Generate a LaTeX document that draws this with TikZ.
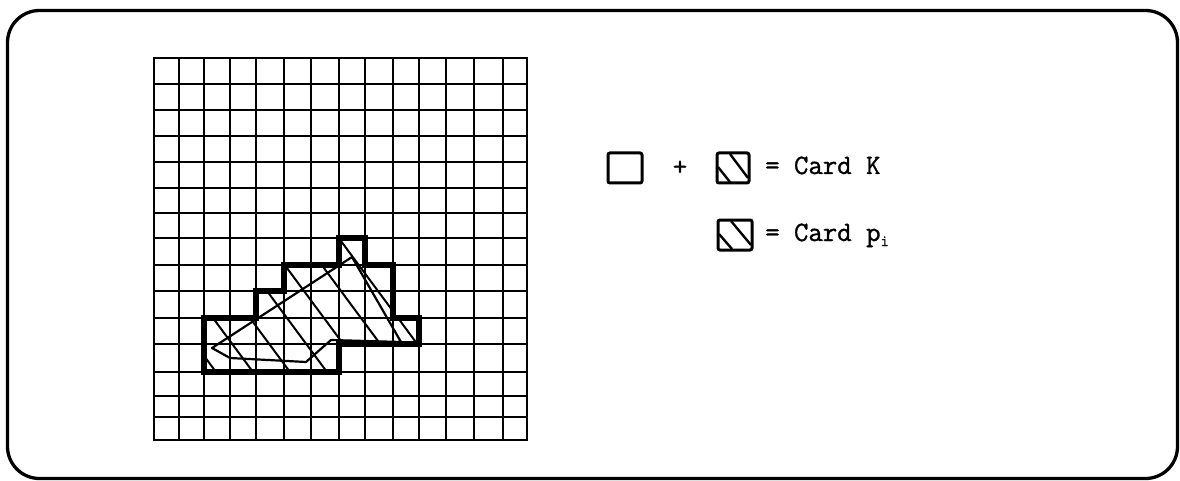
\documentclass[tikz,border=0pt]{standalone}
\usepackage{fontspec}
\newfontfamily\legfont{Latin Modern Mono}[FakeBold=1.2]
\begin{document}
\begin{tikzpicture}[x=1pt,y=-1pt,
  gridline/.style={line width=2.5pt},
  kline/.style={line width=5.5pt, line join=miter},
  pline/.style={line width=2.2pt, line join=round},
  hatch/.style={line width=2pt},
  legbox/.style={line width=3pt, rounded corners=2pt},
  legtext/.style={font=\fontsize{28}{32}\selectfont\legfont, anchor=base west, inner sep=0pt},
]
\useasboundingbox (0,0) rectangle (1180,481);
% outer frame
\draw[line width=3.3pt, rounded corners=32pt] (7.5,10.5) rectangle (1177.5,478.5);
% grid
\foreach \x in {154,179,204,230,256,284,311,339,365,393,419,446,474,503,527}
  \draw[gridline] (\x,58) -- (\x,440);
\foreach \y in {58,84,110,136,162,188,213,238,265,291,318,344,372,396,417,440}
  \draw[gridline] (154,\y) -- (527,\y);
\draw[gridline] (154,58) rectangle (527,440);
% hatching of K
\begin{scope}
  \clip (339,238) -- (365,238) -- (365,265) -- (393,265) -- (393,318) -- (419,318)
    -- (419,344) -- (339,344) -- (339,372) -- (204,372) -- (204,318) -- (256,318)
    -- (256,291) -- (284,291) -- (284,265) -- (339,265) -- cycle;
  \foreach \x in {110.8,147.8,184.8,221.8,258.8,295.8,332.8}
    \draw[hatch] (\x,230) -- ++(150,202.5);
\end{scope}
% K outline
\draw[kline] (339,238) -- (365,238) -- (365,265) -- (393,265) -- (393,318) -- (419,318)
    -- (419,344) -- (339,344) -- (339,372) -- (204,372) -- (204,318) -- (256,318)
    -- (256,291) -- (284,291) -- (284,265) -- (339,265) -- cycle;
% polygon p_i
\draw[pline] (212,348) -- (230,358) -- (306,362) -- (331,340) -- (401,342) -- (352,257) -- cycle;
% legend row 1
\draw[legbox] (608,153) rectangle (642,183);
\node[legtext, anchor=center] (plus) at (680,168) {+};
\draw[legbox] (717,153) rectangle (749,183);
\draw[hatch, line width=2.4pt] (730,154) -- (748,178);
\draw[hatch, line width=2.4pt] (718,167) -- (730,182);
\node[legtext] (cardk) at (765,174) {= Card K};
% legend row 2
\draw[legbox] (718,220) rectangle (752,250);
\draw[hatch, line width=2.4pt] (731,221) -- (751,245);
\draw[hatch, line width=2.4pt] (719,234) -- (732,249);
\node[legtext] (cardp) at (765,241) {= Card p\raisebox{-5pt}{\fontsize{16}{16}\selectfont i}};
\end{tikzpicture}
\end{document}
